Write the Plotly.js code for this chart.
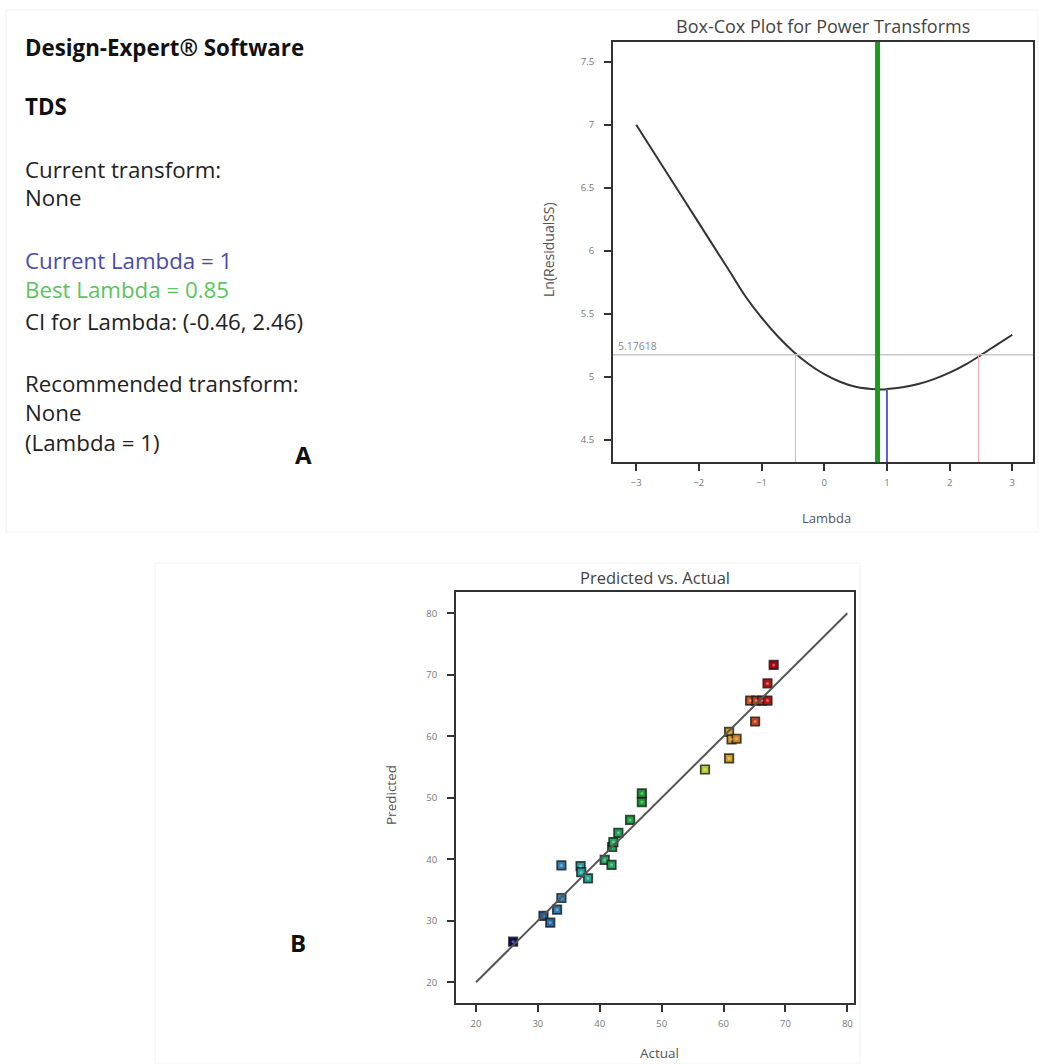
<!DOCTYPE html>
<html>
<head>
<meta charset="utf-8">
<script src="https://cdn.plot.ly/plotly-3.0.1.min.js"></script>
<style>
  html, body { margin: 0; padding: 0; background: #ffffff; }
  #chart { width: 1039px; height: 1064px; }
</style>
</head>
<body>
<div id="chart"></div>
<script>
// ---- Box-Cox curve ----
const lambdaValues = [-3, -2.5, -2, -1.5, -1.25, -1, -0.75, -0.5, -0.25, 0, 0.25, 0.5, 0.85, 1, 1.25, 1.5, 1.75, 2, 2.25, 2.5, 2.75, 3];
const lnResidualSS = [7.00, 6.61, 6.22, 5.83, 5.634, 5.47, 5.327, 5.204, 5.103, 5.022, 4.962, 4.922, 4.902, 4.904, 4.918, 4.944, 4.983, 5.034, 5.098, 5.174, 5.255, 5.335];
const ciThreshold = 5.17618;
const bestLambda = 0.85;
const currentLambda = 1;
const currentLambdaLn = 4.904;
const ciLow = -0.46;
const ciHigh = 2.46;
const boxCoxXTicks = [-3, -2, -1, 0, 1, 2, 3];
const boxCoxYTicks = [4.5, 5, 5.5, 6, 6.5, 7, 7.5];

// ---- Predicted vs Actual ----
const actual    = [26.0, 30.9, 32.0, 33.1, 33.8, 33.8, 36.9, 37.0, 38.1, 40.8, 41.9, 42.0, 42.2, 43.0, 44.9, 46.8, 46.8, 57.0, 60.9, 60.9, 61.3, 62.1, 65.1, 64.3, 65.3, 66.2, 67.1, 67.1, 68.1];
const predicted = [26.6, 30.8, 29.7, 31.8, 33.7, 39.0, 38.9, 37.9, 36.9, 39.9, 39.1, 42.0, 42.8, 44.3, 46.4, 50.7, 49.3, 54.6, 56.4, 60.7, 59.5, 59.6, 62.4, 65.8, 65.8, 65.8, 65.8, 68.6, 71.6];
const diagonal = [20, 80];
const pvaTicks = [20, 30, 40, 50, 60, 70, 80];

// ---- Text panel ----
const infoLines = [
  {text: "Design-Expert® Software", y: 47, bold: true, color: "#111111"},
  {text: "TDS", y: 107, bold: true, color: "#111111"},
  {text: "Current transform:", y: 169, color: "#222222"},
  {text: "None", y: 198, color: "#222222"},
  {text: "Current Lambda = 1", y: 260, color: "#4b4ba8"},
  {text: "Best Lambda = 0.85", y: 290, color: "#5cc45c"},
  {text: "CI for Lambda: (-0.46, 2.46)", y: 321, color: "#222222"},
  {text: "Recommended transform:", y: 383, color: "#222222"},
  {text: "None", y: 412, color: "#222222"},
  {text: "(Lambda = 1)", y: 442, color: "#222222"}
];

const W = 1039, H = 1064;
const px = x => x / W;
const py = y => 1 - y / H;
const FONT = 'Open Sans, sans-serif';

const bcX = [-3.37, 3.33];
const bcY = [4.326, 7.656];
const pvX = [16.77, 81.08];
const pvY = [16.63, 83.46];

const traces = [
  {x: lambdaValues, y: lnResidualSS, type: 'scatter', mode: 'lines',
   line: {color: '#333333', width: 2, shape: 'spline', smoothing: 1}, xaxis: 'x', yaxis: 'y',
   showlegend: false},
  {x: actual, y: predicted, type: 'scatter', mode: 'markers', xaxis: 'x2', yaxis: 'y2',
   marker: {symbol: 'square', size: 8.5, color: actual, cmin: 26, cmax: 68,
            colorscale: [[0, '#0a0a5e'], [0.12, '#2a5a9e'], [0.19, '#2f86b8'], [0.27, '#1fa59a'],
                         [0.37, '#20a860'], [0.5, '#1a9e2e'], [0.74, '#bccc2a'], [0.84, '#d09a22'],
                         [0.92, '#cc4a1a'], [1, '#b0000e']],
            line: {color: 'rgba(25,25,25,0.8)', width: 1.7}},
   showlegend: false},
  {x: actual, y: predicted, type: 'scatter', mode: 'markers', xaxis: 'x2', yaxis: 'y2',
   marker: {symbol: 'circle', size: 3, color: 'rgba(255,255,255,0.35)'}, hoverinfo: 'skip', showlegend: false},
  {x: diagonal, y: diagonal, type: 'scatter', mode: 'lines', xaxis: 'x2', yaxis: 'y2',
   line: {color: '#555555', width: 2}, hoverinfo: 'skip', showlegend: false}
];

const annotations = infoLines.map(l => ({
  text: l.bold ? '<b>' + l.text + '</b>' : l.text,
  xref: 'paper', yref: 'paper', x: px(23), y: py(l.y), xanchor: 'left', yanchor: 'middle',
  showarrow: false, font: {family: FONT, size: 22.3, color: l.color}
}));

annotations.push(
  {text: '<b>A</b>', xref: 'paper', yref: 'paper', x: px(303), y: py(455), xanchor: 'center', yanchor: 'middle',
   showarrow: false, font: {family: FONT, size: 24, color: '#111'}},
  {text: '<b>B</b>', xref: 'paper', yref: 'paper', x: px(298), y: py(942), xanchor: 'center', yanchor: 'middle',
   showarrow: false, font: {family: FONT, size: 24, color: '#111'}},
  {text: 'Box-Cox Plot for Power Transforms', xref: 'paper', yref: 'paper', x: px(823), y: py(26),
   xanchor: 'center', yanchor: 'middle', showarrow: false, font: {family: FONT, size: 18, color: '#444'}},
  {text: 'Ln(ResidualSS)', xref: 'paper', yref: 'paper', x: px(548), y: py(250), textangle: -90,
   xanchor: 'center', yanchor: 'middle', showarrow: false, font: {family: FONT, size: 14, color: '#555'}},
  {text: 'Lambda', xref: 'paper', yref: 'paper', x: px(826), y: py(518),
   xanchor: 'center', yanchor: 'middle', showarrow: false, font: {family: FONT, size: 13, color: '#555'}},
  {text: ciThreshold.toString(), xref: 'x', yref: 'y', x: bcX[0] + 0.05, y: ciThreshold,
   xanchor: 'left', yanchor: 'bottom', showarrow: false, font: {family: FONT, size: 10.5, color: '#888'}},
  {text: 'Predicted vs. Actual', xref: 'paper', yref: 'paper', x: px(655), y: py(577),
   xanchor: 'center', yanchor: 'middle', showarrow: false, font: {family: FONT, size: 16.5, color: '#444'}},
  {text: 'Predicted', xref: 'paper', yref: 'paper', x: px(391), y: py(795), textangle: -90,
   xanchor: 'center', yanchor: 'middle', showarrow: false, font: {family: FONT, size: 13.5, color: '#555'}},
  {text: 'Actual', xref: 'paper', yref: 'paper', x: px(659), y: py(1053),
   xanchor: 'center', yanchor: 'middle', showarrow: false, font: {family: FONT, size: 13.5, color: '#555'}}
);

const shapes = [
  {type: 'rect', xref: 'paper', yref: 'paper', x0: px(6), x1: px(1038), y0: py(532), y1: py(10),
   line: {color: '#f0f0f0', width: 1}},
  {type: 'rect', xref: 'paper', yref: 'paper', x0: px(155), x1: px(860), y0: py(1064), y1: py(563),
   line: {color: '#f2f2f2', width: 1}},
  {type: 'line', xref: 'x', yref: 'y', x0: bcX[0], x1: bcX[1], y0: ciThreshold, y1: ciThreshold,
   line: {color: '#c8c8c8', width: 1.5}},
  {type: 'line', xref: 'x', yref: 'y', x0: ciLow, x1: ciLow, y0: bcY[0], y1: ciThreshold,
   line: {color: '#f4a8a8', width: 1}},
  {type: 'line', xref: 'x', yref: 'y', x0: ciHigh, x1: ciHigh, y0: bcY[0], y1: ciThreshold,
   line: {color: '#f4a8a8', width: 1}},
  {type: 'line', xref: 'x', yref: 'y', x0: currentLambda, x1: currentLambda, y0: bcY[0], y1: currentLambdaLn,
   line: {color: '#5a5acc', width: 2}},
  {type: 'line', xref: 'x', yref: 'y', x0: bestLambda, x1: bestLambda, y0: bcY[0], y1: bcY[1],
   line: {color: '#1e9a1e', width: 5}}
];

const axisCommon = {
  showgrid: false, zeroline: false, showline: true, mirror: true, linecolor: '#333', linewidth: 2,
  ticks: 'outside', ticklen: 7, tickwidth: 2, tickcolor: '#333',
  tickfont: {family: FONT, size: 9.5, color: '#777'}, fixedrange: true
};

const layout = {
  width: W, height: H,
  margin: {l: 0, r: 0, t: 0, b: 0},
  paper_bgcolor: '#ffffff', plot_bgcolor: '#ffffff',
  showlegend: false,
  xaxis: Object.assign({}, axisCommon, {domain: [px(613), px(1033)], range: bcX, tickvals: boxCoxXTicks,
    anchor: 'y', ticklabelstandoff: 4}),
  yaxis: Object.assign({}, axisCommon, {domain: [py(462), py(42)], range: bcY, tickvals: boxCoxYTicks,
    anchor: 'x', ticklabelstandoff: 8}),
  xaxis2: Object.assign({}, axisCommon, {domain: [px(456), px(854)], range: pvX, tickvals: pvaTicks,
    anchor: 'y2', ticklabelstandoff: 4}),
  yaxis2: Object.assign({}, axisCommon, {domain: [py(1003), py(592)], range: pvY, tickvals: pvaTicks,
    anchor: 'x2', ticklabelstandoff: 8}),
  annotations: annotations,
  shapes: shapes
};

Plotly.newPlot('chart', traces, layout, {displayModeBar: false, staticPlot: true});
</script>
</body>
</html>
